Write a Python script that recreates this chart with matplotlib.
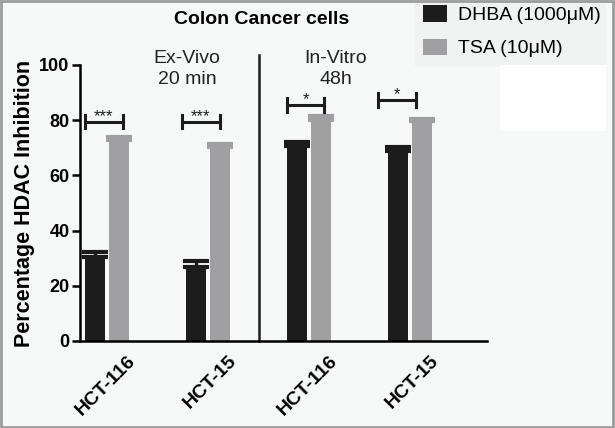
import matplotlib
matplotlib.use("Agg")
import matplotlib.pyplot as plt
import matplotlib.transforms as mtransforms
from matplotlib.patches import Rectangle
import numpy as np

plt.rcParams['font.family'] = ['Liberation Sans', 'DejaVu Sans']

# data
cell_lines = ['HCT-116', 'HCT-15', 'HCT-116', 'HCT-15']
dhba = [30.3, 26.7, 70.5, 68.7]
dhba_err = [1.8, 2.1, 1.7, 1.5]
tsa = [72.7, 70.3, 80.2, 79.8]
tsa_err = [1.3, 1.0, 1.3, 0.6]
series_labels = ['DHBA (1000\u03bcM)', 'TSA (10\u03bcM)']

# significance brackets
bracket_x0 = [-0.22, 0.74, 1.78, 2.68]
bracket_x1 = [0.16, 1.12, 2.15, 3.06]
bracket_y = [79.5, 79.5, 85.5, 87.3]
stars = ['***', '***', '*', '*']

black = '#1c1c1c'
gray = '#a0a0a2'

fig = plt.figure(figsize=(6.15, 4.28), dpi=100)
fig.patch.set_facecolor('#f7f8f8')
ax = fig.add_axes([0.130, 0.2033, 0.662, 0.6449])
ax.set_facecolor('none')

x = np.arange(len(cell_lines))
w = 0.2
off = 0.119

b1 = ax.bar(x - off, dhba, w, color=black, label=series_labels[0], zorder=2)
b2 = ax.bar(x + off, tsa, w, color=gray, label=series_labels[1], zorder=2)
ax.errorbar(x - off, dhba, yerr=[np.zeros(4), dhba_err], fmt='none',
            ecolor=black, elinewidth=2.5, capsize=9.5, capthick=3, zorder=1)
ax.errorbar(x + off, tsa, yerr=[np.zeros(4), tsa_err], fmt='none',
            ecolor=gray, elinewidth=2.5, capsize=9.5, capthick=3, zorder=1)

# brackets
for x0, x1, y, s in zip(bracket_x0, bracket_x1, bracket_y, stars):
    ax.plot([x0, x1], [y, y], color=black, lw=2.2, clip_on=False)
    ax.plot([x0, x0], [y - 2.4, y + 2.4], color=black, lw=2.2, clip_on=False)
    ax.plot([x1, x1], [y - 2.4, y + 2.4], color=black, lw=2.2, clip_on=False)
    ax.text((x0 + x1) / 2, y + 0.3, s, ha='center', va='baseline',
            fontsize=12, color=black)

# divider
ax.plot([1.5, 1.5], [0, 103.5], color=black, lw=1.8, clip_on=False)

ax.text(0.79, 98.5, 'Ex-Vivo\n20 min', ha='center', va='center',
        multialignment='center', fontsize=14, linespacing=1.35,
        color='#222222')
ax.text(2.26, 98.5, 'In-Vitro\n48h', ha='center', va='center',
        multialignment='center', fontsize=14, linespacing=1.35,
        color='#222222')

ax.set_xlim(-0.267, 3.76)
ax.set_ylim(0, 100)
ax.set_yticks([0, 20, 40, 60, 80, 100])
ax.tick_params(axis='y', length=6, width=1.8, pad=1.5, labelsize=13)
for t in ax.get_yticklabels():
    t.set_fontweight('bold')
ax.set_xticks(x, cell_lines, rotation=45, ha='right', va='center',
              rotation_mode='anchor', fontsize=14, fontweight='bold')
ax.tick_params(axis='x', length=0, pad=0)
offset = mtransforms.ScaledTranslation(0.26, -0.17, fig.dpi_scale_trans)
for t in ax.get_xticklabels():
    t.set_transform(t.get_transform() + offset)

for side in ['top', 'right']:
    ax.spines[side].set_visible(False)
ax.spines['left'].set_linewidth(1.8)
ax.spines['bottom'].set_linewidth(1.8)

ax.set_ylabel('Percentage HDAC Inhibition', fontsize=15.5, fontweight='bold',
              labelpad=3)

fig.text(262 / 615, 1 - 20 / 428, 'Colon Cancer cells', ha='center',
         va='center', fontsize=14, fontweight='bold')

# backgrounds behind legend
fig.patches.append(Rectangle((415 / 615, 1 - 65 / 428), 190 / 615, 63 / 428,
                             transform=fig.transFigure, color='#f1f2f2',
                             zorder=-1))
fig.patches.append(Rectangle((500 / 615, 1 - 130 / 428), 105 / 615, 65 / 428,
                             transform=fig.transFigure, color='white',
                             zorder=-1))

fig.legend(handles=[b1, b2], loc='upper left',
           bbox_to_anchor=(423 / 615, 1 - 5 / 428), frameon=False,
           fontsize=14, handlelength=1.24, handleheight=0.93,
           handletextpad=0.57, borderpad=0, borderaxespad=0,
           labelspacing=0.75)

# border
fig.patches.append(Rectangle((0.002, 0.003), 0.995, 0.994,
                             transform=fig.transFigure, fill=False,
                             edgecolor='#9c9c9c', lw=2, zorder=5))

fig.savefig('out.png', dpi=100, facecolor=fig.get_facecolor())
